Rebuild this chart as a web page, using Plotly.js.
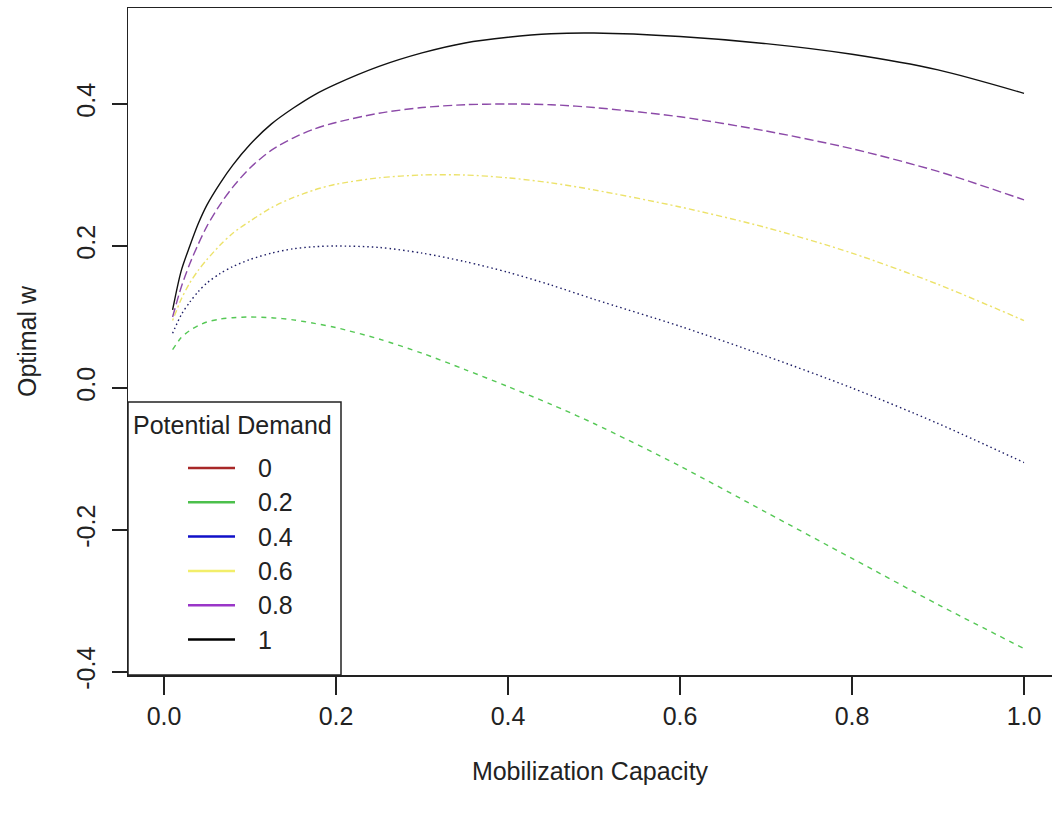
<!DOCTYPE html>
<html>
<head>
<meta charset="utf-8">
<script src="https://cdn.plot.ly/plotly-3.0.1.min.js"></script>
<style>html,body{margin:0;padding:0;background:#fff;}#chart{width:1052px;height:819px;}</style>
</head>
<body>
<div id="chart"></div>
<script>
// ---- data ----
var capacity = [0.01, 0.02, 0.03, 0.04, 0.05, 0.065, 0.08, 0.1, 0.125, 0.15, 0.175, 0.2, 0.25, 0.3, 0.35, 0.4, 0.45, 0.5, 0.6, 0.7, 0.8, 0.9, 1.0];
var demand02 = [0.054, 0.071, 0.081, 0.088, 0.093, 0.097, 0.099, 0.100, 0.099, 0.096, 0.091, 0.085, 0.069, 0.049, 0.026, 0.002, -0.023, -0.050, -0.110, -0.175, -0.240, -0.305, -0.367];
var demand04 = [0.077, 0.103, 0.121, 0.136, 0.148, 0.161, 0.171, 0.181, 0.190, 0.196, 0.199, 0.200, 0.198, 0.190, 0.178, 0.163, 0.145, 0.125, 0.087, 0.045, 0.000, -0.050, -0.105];
var demand06 = [0.095, 0.125, 0.148, 0.166, 0.181, 0.201, 0.218, 0.235, 0.254, 0.268, 0.279, 0.287, 0.296, 0.300, 0.300, 0.296, 0.289, 0.279, 0.255, 0.226, 0.190, 0.146, 0.095];
var demand08 = [0.100, 0.142, 0.175, 0.203, 0.228, 0.258, 0.283, 0.310, 0.335, 0.352, 0.365, 0.374, 0.387, 0.395, 0.399, 0.400, 0.399, 0.395, 0.382, 0.362, 0.337, 0.305, 0.265];
var demand10 = [0.110, 0.165, 0.200, 0.232, 0.258, 0.288, 0.314, 0.343, 0.372, 0.394, 0.413, 0.428, 0.453, 0.472, 0.486, 0.494, 0.499, 0.500, 0.495, 0.485, 0.470, 0.448, 0.415];

var xTickVals = [0, 0.2, 0.4, 0.6, 0.8, 1.0];
var xTickText = ['0.0', '0.2', '0.4', '0.6', '0.8', '1.0'];
var yTickVals = [-0.4, -0.2, 0, 0.2, 0.4];
var yTickText = ['-0.4', '-0.2', '0.0', '0.2', '0.4'];

var legendTitle = 'Potential Demand';
var legendLabels = ['0', '0.2', '0.4', '0.6', '0.8', '1'];
var legendColors = ['#a82828', '#4cc04c', '#1010c8', '#f2ee6a', '#9a36c8', '#000000'];

// ---- styles ----
var FONT = 'Liberation Sans, Arial, sans-serif';
var FS = 25;
var TXT = '#222222';
var series = [
  {y: demand02, color: '#55c855', dash: '5px,5px'},
  {y: demand04, color: '#1e1e66', dash: '1.5px,3px'},
  {y: demand06, color: '#ece26a', dash: '2px,3px,6px,3px'},
  {y: demand08, color: '#8c4aa8', dash: '9px,4px'},
  {y: demand10, color: '#111111', dash: 'solid'}
];

var traces = series.map(function (s) {
  return {
    x: capacity, y: s.y, type: 'scatter', mode: 'lines',
    line: {color: s.color, width: 1.4, dash: s.dash, shape: 'spline', smoothing: 0.8},
    showlegend: false, hoverinfo: 'skip'
  };
});

// plot area in pixels
var L = 128, T = 8, W = 1052, H = 819, B = 144;
var plotW = W - L, plotH = H - T - B;
function px(xp) { return (xp - L) / plotW; }
function py(yp) { return (H - B - yp) / plotH; }

var shapes = [];
var annotations = [];
// legend box
shapes.push({type: 'rect', xref: 'paper', yref: 'paper', x0: px(128), x1: px(341), y0: py(675), y1: py(402),
  line: {color: '#222', width: 1.5}, fillcolor: 'rgba(255,255,255,1)', layer: 'above'});
annotations.push({xref: 'paper', yref: 'paper', x: px(131), y: py(425), xanchor: 'left', yanchor: 'middle',
  text: legendTitle, showarrow: false, font: {family: FONT, size: FS, color: TXT}});
var rowY0 = 468, rowStep = 34.3;
legendLabels.forEach(function (lab, i) {
  var yy = rowY0 + i * rowStep;
  shapes.push({type: 'line', xref: 'paper', yref: 'paper', x0: px(188), x1: px(235), y0: py(yy), y1: py(yy),
    line: {color: legendColors[i], width: 2.5}, layer: 'above'});
  annotations.push({xref: 'paper', yref: 'paper', x: px(256), y: py(yy), xanchor: 'left', yanchor: 'middle',
    text: lab, showarrow: false, font: {family: FONT, size: FS, color: TXT}});
});

var layout = {
  width: W, height: H,
  margin: {l: L, r: 0, t: T, b: B, pad: 0},
  paper_bgcolor: '#ffffff', plot_bgcolor: '#ffffff',
  font: {family: FONT, size: FS, color: TXT},
  showlegend: false,
  xaxis: {
    range: [(128 - 164) / 860, (1052 - 164) / 860],
    tickvals: xTickVals, ticktext: xTickText,
    ticks: 'outside', ticklen: 18, tickwidth: 1.5, tickcolor: '#222',
    showline: true, mirror: true, linecolor: '#222', linewidth: 1.5,
    showgrid: false, zeroline: false,
    tickfont: {family: FONT, size: FS, color: TXT},
    title: {text: 'Mobilization Capacity', font: {family: FONT, size: FS, color: TXT}, standoff: 34}
  },
  yaxis: {
    range: [(388 - 675) / 710, (388 - 8) / 710],
    tickvals: yTickVals, ticktext: yTickText, tickangle: -90,
    ticks: 'outside', ticklen: 15, tickwidth: 1.5, tickcolor: '#222',
    showline: true, mirror: false, linecolor: '#222', linewidth: 1.5,
    showgrid: false, zeroline: false, ticklabelstandoff: 7,
    tickfont: {family: FONT, size: FS, color: TXT},
    title: {text: 'Optimal w', font: {family: FONT, size: FS, color: TXT}, standoff: 28}
  },
  shapes: shapes,
  annotations: annotations
};

Plotly.newPlot('chart', traces, layout, {displayModeBar: false, staticPlot: true});
</script>
</body>
</html>
